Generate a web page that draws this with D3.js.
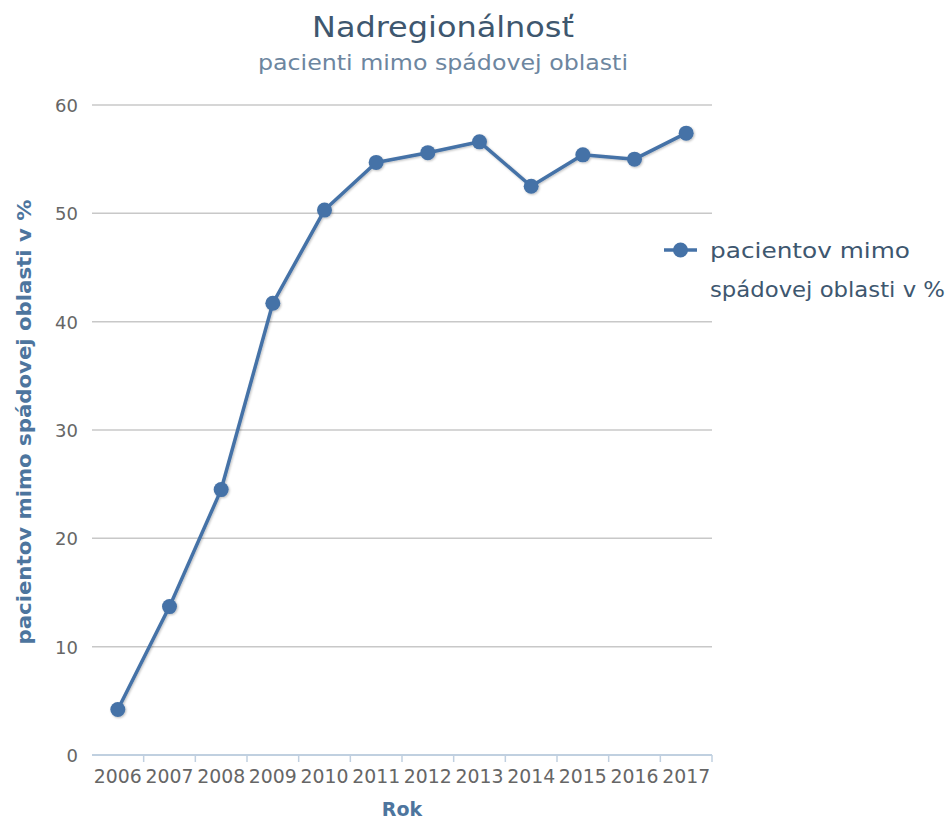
<!DOCTYPE html>
<html>
<head>
<meta charset="utf-8">
<script src="https://cdn.jsdelivr.net/npm/d3@7"></script>
<style>
body{margin:0;background:#fff;}
svg{font-family:"DejaVu Sans",sans-serif;}
</style>
</head>
<body>
<svg id="chart" width="950" height="821"></svg>
<script>
const years = ["2006","2007","2008","2009","2010","2011","2012","2013","2014","2015","2016","2017"];
const values = [4.2, 13.7, 24.5, 41.7, 50.3, 54.7, 55.6, 56.6, 52.5, 55.4, 55.0, 57.4];
const yTicks = [0,10,20,30,40,50,60];
const seriesName = ["pacientov mimo","spádovej oblasti v %"];
const titleText = "Nadregionálnosť";
const subtitleText = "pacienti mimo spádovej oblasti";
const xTitle = "Rok";
const yTitle = "pacientov mimo spádovej oblasti v %";

(function(){
const svg = d3.select("#chart");
const pL = 92, pR = 712, pT = 105, pB = 755;
const x = d3.scaleBand().domain(years).range([pL, pR]);
const y = d3.scaleLinear().domain([0,60]).range([pB, pT]);

const defs = svg.append("defs");
const f = defs.append("filter").attr("id","sh").attr("x","-10%").attr("y","-10%").attr("width","130%").attr("height","130%");
f.append("feDropShadow").attr("dx",1).attr("dy",1).attr("stdDeviation",1.2).attr("flood-color","#000").attr("flood-opacity",0.25);

// title
svg.append("text").attr("x",443).attr("y",37).attr("text-anchor","middle")
  .attr("font-size",29).attr("fill","#3E576F")
  .attr("textLength",262).attr("lengthAdjust","spacingAndGlyphs").text(titleText);
svg.append("text").attr("x",443).attr("y",70).attr("text-anchor","middle")
  .attr("font-size",21).attr("fill","#6D869F")
  .attr("textLength",370).attr("lengthAdjust","spacingAndGlyphs").text(subtitleText);

// gridlines
svg.append("g").selectAll("line").data(yTicks.filter(d=>d>0)).join("line")
  .attr("x1",pL).attr("x2",pR).attr("y1",d=>y(d)).attr("y2",d=>y(d))
  .attr("stroke","#C8C8C8").attr("stroke-width",1.5);

// y axis labels
const yAxis = d3.axisLeft(y).tickValues(yTicks).tickSize(0).tickPadding(14);
const gy = svg.append("g").attr("transform",`translate(${pL},0)`).call(yAxis);
gy.select(".domain").remove();
gy.selectAll("text").attr("font-size",18).attr("fill","#666").attr("font-family","'DejaVu Sans', sans-serif").attr("dy","0.36em");

// x axis
const gx = svg.append("g").attr("transform",`translate(0,${pB})`);
gx.append("line").attr("x1",pL).attr("x2",pR).attr("y1",0).attr("y2",0)
  .attr("stroke","#C0D0E0").attr("stroke-width",2);
gx.selectAll("line.tk").data(years).join("line").attr("class","tk")
  .attr("x1",d=>x(d)+x.bandwidth()).attr("x2",d=>x(d)+x.bandwidth())
  .attr("y1",0).attr("y2",7).attr("stroke","#C0D0E0").attr("stroke-width",1.5);
const xAxis = d3.axisBottom(x).tickSize(0).tickPadding(0);
const gxa = svg.append("g").attr("transform",`translate(0,${pB})`).call(xAxis);
gxa.select(".domain").remove();
gxa.selectAll("text").attr("font-size",19).attr("fill","#666").attr("font-family","'DejaVu Sans', sans-serif")
  .attr("y",28).attr("dy",0).attr("textLength",48).attr("lengthAdjust","spacingAndGlyphs");

// axis titles
svg.append("text").attr("x",402).attr("y",816).attr("text-anchor","middle")
  .attr("font-size",19).attr("font-weight","bold").attr("fill","#4D759E").text(xTitle);
svg.append("text").attr("transform",`translate(31,422) rotate(-90)`)
  .attr("text-anchor","middle").attr("font-size",19).attr("font-weight","bold").attr("fill","#4D759E")
  .attr("textLength",445).attr("lengthAdjust","spacingAndGlyphs")
  .text(yTitle);

// line
const data = years.map((d,i)=>({year:d, v:values[i]}));
const cx = d => x(d.year)+x.bandwidth()/2;
const g = svg.append("g").attr("filter","url(#sh)");
g.append("path").datum(data)
  .attr("d", d3.line().x(cx).y(d=>y(d.v)))
  .attr("fill","none").attr("stroke","#4572A7").attr("stroke-width",3.5).attr("stroke-linejoin","round");
g.selectAll("circle").data(data).join("circle")
  .attr("cx",cx).attr("cy",d=>y(d.v)).attr("r",7.5).attr("fill","#4572A7");

// legend
const lg = svg.append("g");
lg.append("line").attr("x1",664).attr("x2",697).attr("y1",250).attr("y2",250)
  .attr("stroke","#4572A7").attr("stroke-width",3.5);
lg.append("circle").attr("cx",680.5).attr("cy",250).attr("r",7.5).attr("fill","#4572A7");
const legW = [200, 235];
lg.selectAll("text").data(seriesName).join("text")
  .attr("x",710).attr("y",(d,i)=>258+i*39).attr("font-size",21).attr("fill","#3E576F")
  .attr("textLength",(d,i)=>legW[i]).attr("lengthAdjust","spacingAndGlyphs").text(d=>d);
})();
</script>
</body>
</html>
